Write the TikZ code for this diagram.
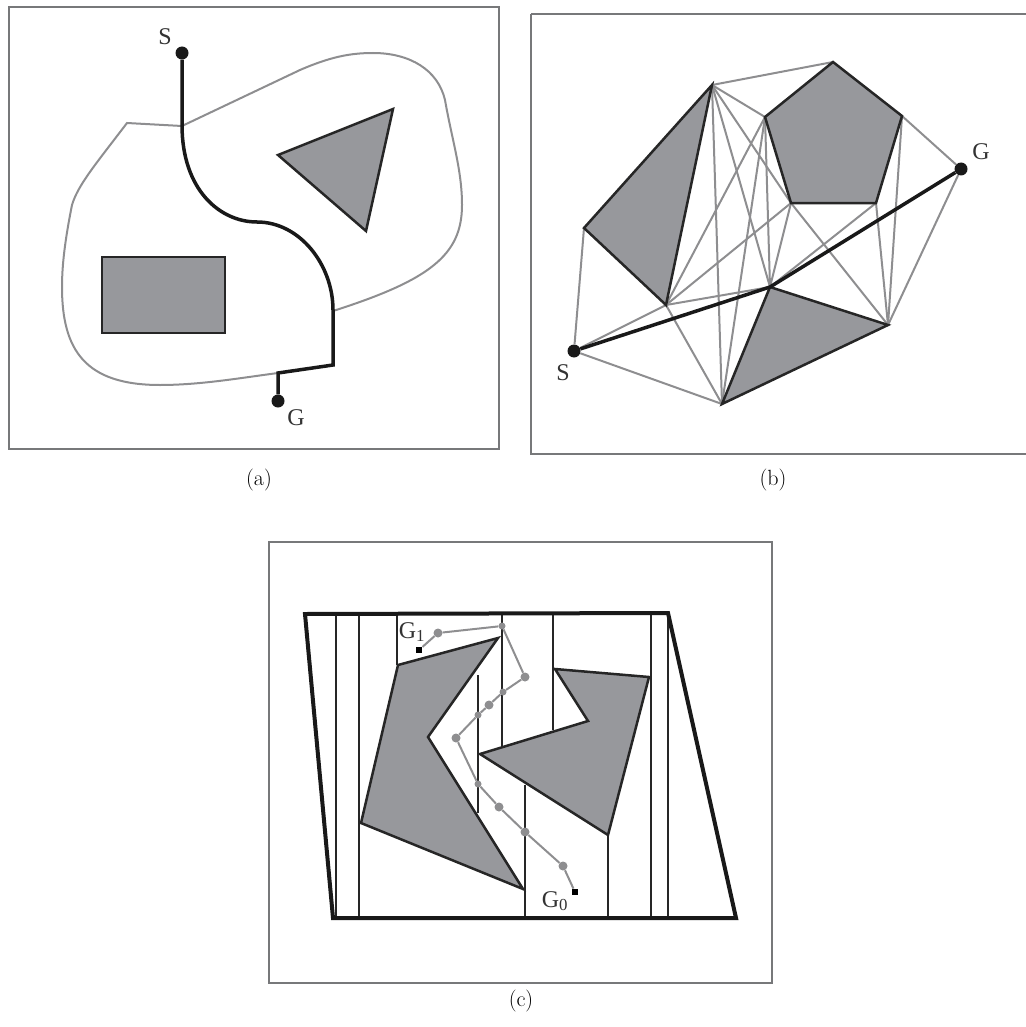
\documentclass[tikz,border=0pt]{standalone}
\usepackage{fontspec}
\newfontfamily\labelfont{Liberation Serif}
\definecolor{obstacle}{HTML}{97989C}
\definecolor{roadgray}{HTML}{8E8E90}
\definecolor{framegray}{HTML}{77787A}
\tikzset{
  frame/.style={draw=framegray, line width=2pt},
  obstacle/.style={draw=black!85, fill=obstacle, line width=2.5pt, line join=miter},
  road/.style={draw=roadgray, line width=2pt},
  route/.style={draw=black!90, line width=3.5pt, line join=miter},
  trap/.style={draw=black!85, line width=2pt},
  dot/.style={circle, fill=black!90, inner sep=0pt, minimum size=13pt},
  waypoint/.style={circle, fill=roadgray, inner sep=0pt, minimum size=9pt},
  goal/.style={rectangle, fill=black, inner sep=0pt, minimum size=6.5pt},
  lab/.style={font=\labelfont\fontsize{24}{24}\selectfont, text=black!80, inner sep=0pt},
  caption/.style={font=\fontsize{22}{22}\selectfont, inner sep=0pt}
}
\begin{document}
\begin{tikzpicture}[x=1pt, y=-1pt]
    \useasboundingbox (0,0) rectangle (1025,1027);
    % Panel (a)
    \draw[frame] (9,7) rectangle (499,449);
    \draw[road] (182,126) -- (300,70) .. controls (330,57) and (350,53) .. (373,53)
        .. controls (410,53) and (438,70) .. (445,100) .. controls (452,140) and (462,170) .. (462,205)
        .. controls (462,255) and (430,280) .. (333,311);
    \draw[road] (182,126) -- (127,123) .. controls (95,165) and (78,185) .. (72,205)
        .. controls (65,240) and (62,265) .. (62,287) .. controls (62,350) and (85,385) .. (160,385)
        .. controls (200,385) and (240,378) .. (278,373);
    \draw[obstacle] (102,257) rectangle (225,333);
    \draw[obstacle] (393,109) -- (278,155) -- (366,231) -- cycle;
    \node[dot] (aS) at (182,53) {};
    \node[dot] (aG) at (278,401) {};
    \draw[route] (aS) -- (182,125) .. controls (182,190) and (220,222) .. (257,222)
        .. controls (300,222) and (333,265) .. (333,310) -- (333,365) -- (278,373) -- (aG);
    \node[lab] (aSlab) at (165,37) {S};
    \node[lab] (aGlab) at (296,418) {G};
    \node[caption] (acap) at (259,480) {(a)};

    % Panel (b)
    \draw[frame] (531,14) -- (1026,14) (531,14) -- (531,454) -- (1026,454);
    \coordinate (P1) at (712,85);
    \coordinate (P2) at (584,228);
    \coordinate (P3) at (666,305);
    \coordinate (Q1) at (833,62);
    \coordinate (Q2) at (902,116);
    \coordinate (Q3) at (876,203);
    \coordinate (Q4) at (791,203);
    \coordinate (Q5) at (765,117);
    \coordinate (T1) at (770,287);
    \coordinate (T2) at (888,325);
    \coordinate (T3) at (722,404);
    \node[dot] (bS) at (574,351) {};
    \node[dot] (bG) at (961,169) {};
    \foreach \a/\b in {P1/Q1, P1/Q5, P1/Q4, P1/T1, P1/T3, Q5/P3, Q5/T1, Q5/T3, Q4/P3, Q4/T1, Q4/T2,
        Q3/T1, Q3/T2, Q2/T2, Q2/bG, bG/T2, P3/T1, P3/T3, P3/bS, P2/bS, bS/T3} {
        \draw[road] (\a) -- (\b);
    }
    \draw[obstacle] (P1) -- (P2) -- (P3) -- cycle;
    \draw[obstacle] (Q1) -- (Q2) -- (Q3) -- (Q4) -- (Q5) -- cycle;
    \draw[obstacle] (T1) -- (T2) -- (T3) -- cycle;
    \draw[route] (bS) -- (T1) -- (bG);
    \node[lab] (bSlab) at (563,373) {S};
    \node[lab] (bGlab) at (981,152) {G};
    \node[caption] (bcap) at (773,480) {(b)};

    % Panel (c)
    \draw[frame] (269,542) rectangle (772,983);
    \foreach \x/\ya/\yb in {336/614/918, 359/614/918, 397/614/665, 502/614/747, 478/675/813,
        525/785/918, 553/614/730, 608/835/918, 651/614/918, 668/614/918} {
        \draw[trap] (\x,\ya) -- (\x,\yb);
    }
    \draw[obstacle] (498,638) -- (398,665) -- (361,823) -- (523,889) -- (428,737) -- cycle;
    \draw[obstacle] (555,669) -- (649,677) -- (608,835) -- (480,754) -- (588,721) -- cycle;
    \draw[route, line width=4pt] (305,614) -- (668,613) -- (736,918) -- (333,918) -- cycle;
    \node[goal] (G1) at (419,650) {};
    \node[goal] (G0) at (575,892) {};
    \node[waypoint] (w1) at (438,633) {};
    \node[waypoint, minimum size=7pt] (w2) at (502,626) {};
    \node[waypoint] (w3) at (525,677) {};
    \node[waypoint, minimum size=7pt] (w4) at (503,692) {};
    \node[waypoint] (w5) at (489,705) {};
    \node[waypoint, minimum size=7pt] (w6) at (478,715) {};
    \node[waypoint] (w7) at (456,738) {};
    \node[waypoint, minimum size=7pt] (w8) at (478,784) {};
    \node[waypoint] (w9) at (499,807) {};
    \node[waypoint] (w10) at (525,832) {};
    \node[waypoint] (w11) at (563,866) {};
    \draw[road] (G1) -- (w1) -- (w2) -- (w3) -- (w4) -- (w5) -- (w6) -- (w7) -- (w8) -- (w9) -- (w10) -- (w11) -- (G0);
    \node[lab] (G1lab) at (412,632) {G\textsubscript{1}};
    \node[lab] (G0lab) at (555,901) {G\textsubscript{0}};
    \node[caption] (ccap) at (521,1001) {(c)};
\end{tikzpicture}
\end{document}
